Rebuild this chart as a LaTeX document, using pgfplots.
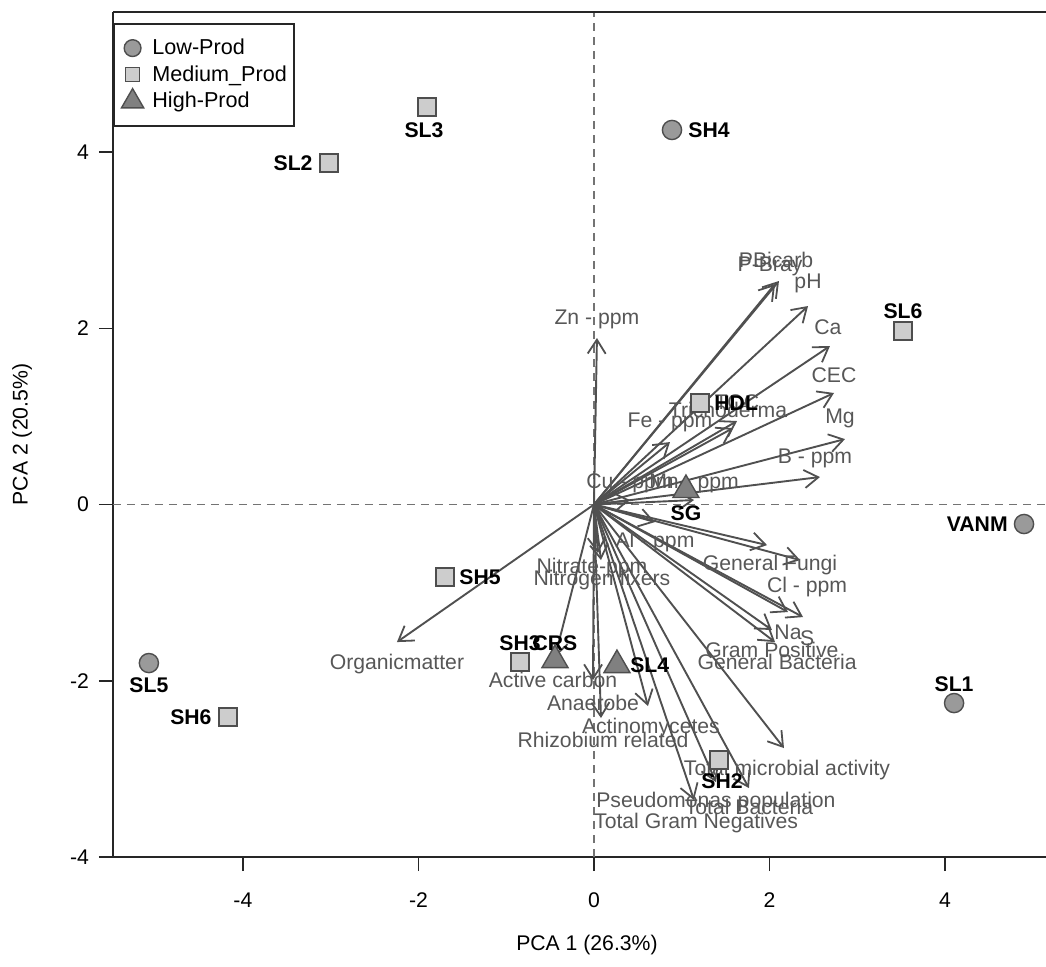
\documentclass[border=0pt]{standalone}
\usepackage{pgfplots}
\pgfplotsset{compat=1.18}
\usepackage{pgfplotstable}
\usepackage{fontspec}
\setmainfont{Liberation Sans}
\usetikzlibrary{arrows.meta}
\definecolor{arrowgray}{HTML}{505050}
\definecolor{labgray}{HTML}{575757}
\definecolor{circfill}{HTML}{9A9A9A}
\definecolor{sqfill}{HTML}{CDCDCD}
\definecolor{trifill}{HTML}{808080}
\definecolor{edgegray}{HTML}{4E4E4E}

\pgfplotsset{
  lowleg/.style={legend image code/.code={\path (-7.5pt,0pt) (7.5pt,0pt); \draw[##1, mark size=4.2pt] plot coordinates {(0pt,0pt)};}},
  medleg/.style={legend image code/.code={\path (-7.5pt,0pt) (7.5pt,0pt); \draw[##1, mark size=3.5pt] plot coordinates {(0pt,0pt)};}},
  highleg/.style={legend image code/.code={\path (-7.5pt,0pt) (7.5pt,0pt); \draw[##1, mark size=6.4pt] plot coordinates {(0pt,0pt)};}},
}

% loadings: arrow tip (px,py) and label position (lx,ly)
\pgfplotstableread[col sep=comma]{
px,py,lab,lx,ly
2.108,2.537,PBicarb,2.074,2.775
2.063,2.503,P-Bray,2.006,2.707
2.439,2.253,pH,2.439,2.514
2.689,1.799,Ca,2.666,2.015
2.735,1.266,CEC,2.735,1.470
2.860,0.743,Mg,2.803,0.981
2.575,0.312,B - ppm,2.518,0.528
0.034,1.890,Zn - ppm,0.034,2.106
0.866,0.709,Fe - ppm,0.866,0.936
1.584,0.868,Trichoderma,1.527,1.072
1.630,0.948,TOC,1.630,1.164
0.410,0.051,Cu - ppm,0.410,0.244
1.140,0.051,Mn - ppm,1.140,0.244
0.695,-0.199,Al - ppm,0.695,-0.426
1.972,-0.460,General Fungi,2.006,-0.687
2.348,-0.630,Cl - ppm,2.428,-0.936
2.211,-1.220,Na,2.211,-1.447
2.382,-1.277,S,2.428,-1.515
2.028,-1.424,Gram Positive,2.028,-1.651
2.063,-1.561,General Bacteria,2.086,-1.788
2.165,-2.764,Total microbial activity,2.199,-3.014
1.766,-3.218,Total Bacteria,1.766,-3.434
1.390,-3.150,Pseudomonas population,1.390,-3.377
1.140,-3.354,Total Gram Negatives,1.163,-3.615
0.615,-2.287,Actinomycetes,0.649,-2.537
-0.011,-1.992,Anaerobe,-0.011,-2.253
0.080,-2.423,Rhizobium related,0.103,-2.673
-0.444,-1.731,Active carbon,-0.467,-1.992
0.046,-0.551,Nitrate-ppm,-0.022,-0.721
0.080,-0.630,Nitrogen fixers,0.091,-0.857
-2.245,-1.561,Organicmatter,-2.245,-1.811
}\loadings

\pgfplotstableread[col sep=comma]{
px,py
0.889,4.251
4.900,-0.221
4.103,-2.253
-5.071,-1.799
}\lowprod

\pgfplotstableread[col sep=comma]{
px,py
-1.903,4.512
-3.020,3.876
3.521,1.969
-4.171,-2.412
-1.698,-0.823
-0.843,-1.788
1.425,-2.900
1.208,1.152
}\medprod

\pgfplotstableread[col sep=comma]{
px,py
-0.444,-1.765
0.262,-1.822
1.048,0.165
}\highprod

% sample label positions
\pgfplotstableread[col sep=comma]{
lx,ly,lab
-1.937,4.251,SL3
3.521,2.196,SL6
4.103,-2.037,SL1
-5.071,-2.049,SL5
-0.843,-1.572,SH3
-0.444,-1.572,CRS
1.459,-3.138,SH2
1.048,-0.096,SG
}\labcenter

\pgfplotstableread[col sep=comma]{
lx,ly,lab
1.071,4.251,SH4
-1.538,-0.823,SH5
0.410,-1.822,SL4
1.368,1.152,HDL
}\labwest

\pgfplotstableread[col sep=comma]{
lx,ly,lab
-3.202,3.876,SL2
4.718,-0.221,VANM
-4.353,-2.412,SH6
}\labeast

\newcommand{\lblfont}{\fontsize{10.6}{12}\selectfont}
\newcommand{\legfont}{\fontsize{10.8}{12}\selectfont}

\begin{document}
\begin{tikzpicture}
\begin{axis}[
  scale only axis, width=466.5pt, height=422.5pt,
  xmin=-5.48, xmax=5.15, ymin=-4, ymax=5.59,
  axis lines*=left, axis line style={-, line width=1pt, black!85},
  tick align=outside, major tick length=7pt, tick style={black!85, line width=0.8pt},
  xtick={-4,-2,0,2,4}, xticklabels={-4,-2,0,2,4},
  ytick={-4,-2,0,2,4}, yticklabels={-4,-2,0,2,4},
  ticklabel style={font=\lblfont},
  xticklabel style={yshift=-7.5pt},
  yticklabel style={xshift=-1.5pt},
  xlabel={PCA 1 (26.3\%)}, ylabel={PCA 2 (20.5\%)},
  xlabel style={at={(rel axis cs:0.508,-0.104)}, anchor=center, font=\lblfont},
  ylabel style={at={(rel axis cs:-0.0975,0.5)}, anchor=center, font=\lblfont},
  clip=false,
  legend cell align=left,
  legend style={at={(rel axis cs:0,1)}, anchor=north west, yshift=-5.5pt, draw=black!85,
    line width=0.8pt, fill=white, font=\legfont, inner xsep=1.5pt, inner ysep=5.5pt, row sep=0pt},
]
% reference lines
\addplot[forget plot, black!55, line width=0.7pt, dash pattern=on 4pt off 3pt] coordinates {(0,-4) (0,5.59)};
\addplot[forget plot, black!55, line width=0.7pt, dash pattern=on 4pt off 3pt] coordinates {(-5.48,0) (5.15,0)};
% loadings arrows
\addplot[forget plot, quiver={u=\thisrow{px}, v=\thisrow{py}},
  -{Straight Barb[length=7pt,width=9pt,line width=0.9pt]}, draw=arrowgray, line width=0.95pt]
  table[x expr=0, y expr=0] {\loadings};
% loadings labels
\addplot[forget plot, only marks, mark=none, nodes near coords, point meta=explicit symbolic,
  every node near coord/.append style={anchor=center, font=\lblfont, text=labgray, inner sep=0pt}]
  table[x=lx, y=ly, meta=lab] {\loadings};
% samples
\addplot[only marks, mark=*, mark size=4.8pt, mark options={fill=circfill, draw=edgegray, line width=0.7pt}, lowleg]
  table[x=px, y=py] {\lowprod};
\addlegendentry{Low-Prod}
\addplot[only marks, mark=square*, mark size=4.5pt, mark options={fill=sqfill, draw=edgegray, line width=0.7pt}, medleg]
  table[x=px, y=py] {\medprod};
\addlegendentry{Medium\_Prod\hspace{4pt}}
\addplot[only marks, mark=triangle*, mark size=7.5pt, mark options={fill=trifill, draw=edgegray, line width=0.7pt}, highleg]
  table[x=px, y=py] {\highprod};
\addlegendentry{High-Prod}
% sample labels
\addplot[forget plot, only marks, mark=none, nodes near coords, point meta=explicit symbolic,
  every node near coord/.append style={anchor=center, font=\lblfont\bfseries, text=black, inner sep=0pt}]
  table[x=lx, y=ly, meta=lab] {\labcenter};
\addplot[forget plot, only marks, mark=none, nodes near coords, point meta=explicit symbolic,
  every node near coord/.append style={anchor=west, font=\lblfont\bfseries, text=black, inner sep=0pt}]
  table[x=lx, y=ly, meta=lab] {\labwest};
\addplot[forget plot, only marks, mark=none, nodes near coords, point meta=explicit symbolic,
  every node near coord/.append style={anchor=east, font=\lblfont\bfseries, text=black, inner sep=0pt}]
  table[x=lx, y=ly, meta=lab] {\labeast};
% top frame line
\draw[line width=1pt, black!85] (rel axis cs:0,1) -- (rel axis cs:1,1);
\end{axis}
\pgfresetboundingbox
\path[use as bounding box] (-56.5pt,-54.5pt) rectangle (466.5pt,428.5pt);
\end{tikzpicture}
\end{document}
